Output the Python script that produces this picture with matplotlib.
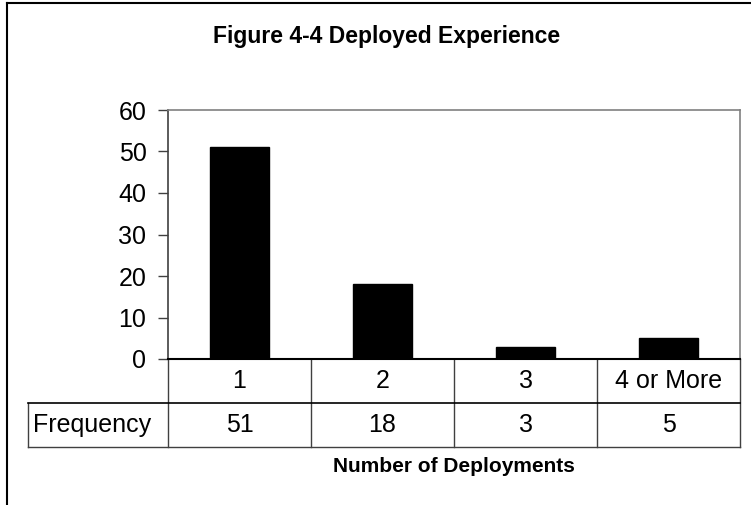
import numpy as np
import matplotlib.pyplot as plt
from matplotlib.lines import Line2D
import matplotlib.transforms as mtransforms

plt.rcParams['font.family'] = ['Liberation Sans', 'DejaVu Sans']

# data
categories = ['1', '2', '3', '4 or More']
frequency = [51, 18, 3, 5]
row_label = 'Frequency'
y_ticks = [0, 10, 20, 30, 40, 50, 60]

W, H = 751, 505
fig = plt.figure(figsize=(W / 100, H / 100), dpi=100)

# plot area in pixels: left 168, right 740, top 110, bottom 359
ax = fig.add_axes([168 / W, (H - 359) / H, 572 / W, 249 / H])
x = np.arange(len(categories))
ax.bar(x, frequency, width=0.41, color='black', edgecolor='black')
ax.set_xlim(-0.5, len(categories) - 0.5)
ax.set_ylim(0, 60)
ax.set_yticks(y_ticks)
ax.set_xticks([])
ax.tick_params(axis='y', direction='out', length=7.5, width=1, color='#404040',
               labelsize=18, pad=8)
for s in ['left', 'top', 'right']:
    ax.spines[s].set_color('#808080')
    ax.spines[s].set_linewidth(1.2)
ax.spines['left'].set_color('#404040')
ax.spines['bottom'].set_color('black')
ax.spines['bottom'].set_linewidth(1.5)

# data table under the axis
row_h = 44 / 249
label_left = -0.5 - 140 / 143
trans = mtransforms.blended_transform_factory(ax.transData, ax.transAxes)
line_kw = dict(transform=trans, clip_on=False, linewidth=1, color='#404040')
for b in np.arange(len(categories) + 1) - 0.5:
    ax.add_line(Line2D([b, b], [0, -2 * row_h], **line_kw))
ax.add_line(Line2D([label_left, label_left], [-row_h, -2 * row_h], **line_kw))
ax.add_line(Line2D([label_left, len(categories) - 0.5], [-row_h, -row_h],
                   transform=trans, clip_on=False, linewidth=1.2, color='black'))
ax.add_line(Line2D([label_left, len(categories) - 0.5], [-2 * row_h, -2 * row_h], **line_kw))
for xi, c, v in zip(x, categories, frequency):
    ax.text(xi, -0.5 * row_h, c, transform=trans, ha='center', va='center', fontsize=18)
    ax.text(xi, -1.5 * row_h, str(v), transform=trans, ha='center', va='center', fontsize=18)
ax.text(label_left + 0.035, -1.5 * row_h, row_label, transform=trans,
        ha='left', va='center', fontsize=18)

fig.text(454 / W, 1 - 467 / H, 'Number of Deployments', ha='center', va='center',
         fontsize=15, fontweight='bold')
fig.text(387 / W, 1 - 37 / H, 'Figure 4-4 Deployed Experience', ha='center', va='center',
         fontsize=16.5, fontweight='bold')

# outer frame (left and top edges)
fig.add_artist(Line2D([7 / W, 7 / W], [0, 1 - 3 / H], transform=fig.transFigure,
                      color='black', linewidth=1.5))
fig.add_artist(Line2D([7 / W, 1], [1 - 3 / H, 1 - 3 / H], transform=fig.transFigure,
                      color='black', linewidth=1.5))

plt.savefig('out.png', dpi=100)
